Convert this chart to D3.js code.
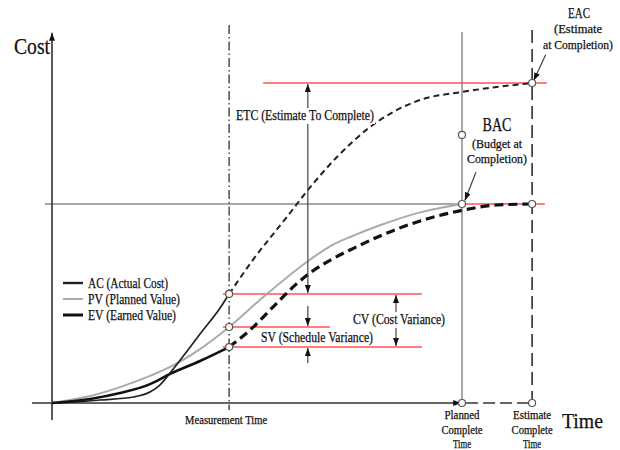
<!DOCTYPE html>
<html>
<head>
<meta charset="utf-8">
<script src="https://cdn.jsdelivr.net/npm/d3@7"></script>
<style>
  html, body { margin: 0; padding: 0; background: #fff; }
  svg { display: block; font-family: "Liberation Serif", "Times New Roman", serif; }
</style>
</head>
<body>
<script>
// curve points as [time, cost]; planned complete time = 100, BAC = 100
const pvPoints = [[0,0],[9.3,3.5],[16.6,8.0],[23.9,13.6],[28.8,18.1],[36.1,27.1],[43.2,38.2],
                  [50.7,51.8],[62.9,72.0],[68.0,79.0],[73.4,84.0],[80,89.3],[89.8,95.8],[100,100]];
const evPoints = [[0,0],[9.3,2.0],[16.6,5.0],[23.9,9.5],[28.8,14.6],[36.1,21.1],[43.2,28.1]];
const evForecast = [[43.2,28.1],[48.3,36.7],[55.6,51.8],[59.5,59.6],[63.5,66.2],[68.5,72.5],
                    [73.4,77.6],[81.2,85.0],[89.8,91.5],[100,96.8],[108.5,99.5],[117.1,100]];
const acPoints = [[0,0],[5.6,0.5],[11.7,1.5],[19.8,3.0],[23.9,5.5],[26.3,9.0],[28.8,15.1],
                  [32.4,24.6],[36.1,34.7],[41,47.7],[43.2,54.8]];
const acForecast = [[43.2,54.8],[49,71.9],[57.3,93.5],[62.4,107.0],[69.5,123.6],[77.6,138.7],
                    [83.2,146.2],[89.8,152.3],[100,156.3],[117.1,160.8]];

// key times: measurement, planned complete, estimate complete
const keyTimes = [43.2, 100, 117.1];
// key costs: EV, PV, AC at measurement, BAC, EAC
const keyCosts = [28.1, 38.2, 54.8, 100, 160.8];

const legendNames = ["AC (Actual Cost)", "PV (Planned Value)", "EV (Earned Value)"];

const width = 620, height = 450;

const svg = d3.select("body").append("svg")
  .attr("width", width)
  .attr("height", height);

const x = d3.scaleLinear().domain([0, 100]).range([52, 462]);
const y = d3.scaleLinear().domain([0, 100]).range([403, 204]);

const tM = keyTimes[0], tP = keyTimes[1], tE = keyTimes[2];
const [cEV, cPV, cAC, cBAC, cEAC] = keyCosts;

// arrow head
svg.append("defs").append("marker")
  .attr("id", "arr")
  .attr("viewBox", "0 0 8 6")
  .attr("refX", 8).attr("refY", 3)
  .attr("markerWidth", 8).attr("markerHeight", 6)
  .attr("markerUnits", "userSpaceOnUse")
  .attr("orient", "auto-start-reverse")
  .append("path").attr("d", "M0,0 L8,3 L0,6 Z").attr("fill", "#111");

function vline(t, c0, c1, stroke, w, dash) {
  return svg.append("line")
    .attr("x1", x(t)).attr("x2", x(t))
    .attr("y1", y(c0)).attr("y2", y(c1))
    .attr("stroke", stroke).attr("stroke-width", w)
    .attr("stroke-dasharray", dash || null);
}
function hline(c, t0, t1, stroke, w, dash) {
  return svg.append("line")
    .attr("x1", x(t0)).attr("x2", x(t1))
    .attr("y1", y(c)).attr("y2", y(c))
    .attr("stroke", stroke).attr("stroke-width", w)
    .attr("stroke-dasharray", dash || null);
}
function label(str, px, py, size, len, anchor) {
  return svg.append("text")
    .attr("x", px).attr("y", py)
    .attr("font-size", size)
    .attr("text-anchor", anchor || "start")
    .attr("textLength", len)
    .attr("lengthAdjust", "spacingAndGlyphs")
    .attr("fill", "#111")
    .attr("stroke", "#111")
    .attr("stroke-width", 0.25)
    .text(str);
}

// reference lines
hline(cBAC, -1.7, tP, "#8a8a8a", 1.5);
vline(tP, 186.4, 0, "#8a8a8a", 1.5);
vline(tE, 187.4, 0, "#222", 1.5, "13,6");
vline(tM, 190, -3.5, "#333", 1.3, "9,3,1.5,3");

// red levels
const red = "#ff5252";
hline(cEAC, 51.5, 120.7, red, 1.5);
hline(cBAC, tP, 120.2, red, 1.5);
hline(cAC, 41.7, 90.2, red, 1.5);
hline(cPV, 41.7, 67.8, red, 1.5);
hline(cEV, 41.7, 90.2, red, 1.5);

// axes
svg.append("line")
  .attr("x1", x(0)).attr("x2", x(0))
  .attr("y1", y(-8.5)).attr("y2", y(186))
  .attr("stroke", "#333").attr("stroke-width", 1.6)
  .attr("marker-end", "url(#arr)");
svg.append("line")
  .attr("x1", x(-4.9)).attr("x2", x(99.8))
  .attr("y1", y(0)).attr("y2", y(0))
  .attr("stroke", "#333").attr("stroke-width", 1.6)
  .attr("marker-end", "url(#arr)");
hline(0, tP + 1, tE, "#333", 1.6, "12,5");

// curves
const line = d3.line()
  .x(d => x(d[0]))
  .y(d => y(d[1]))
  .curve(d3.curveMonotoneX);

svg.append("path").datum(pvPoints).attr("d", line)
  .attr("fill", "none").attr("stroke", "#aaa").attr("stroke-width", 2);
svg.append("path").datum(acPoints).attr("d", line)
  .attr("fill", "none").attr("stroke", "#222").attr("stroke-width", 1.7);
svg.append("path").datum(acForecast).attr("d", line)
  .attr("fill", "none").attr("stroke", "#222").attr("stroke-width", 2)
  .attr("stroke-dasharray", "6,4");
svg.append("path").datum(evPoints).attr("d", line)
  .attr("fill", "none").attr("stroke", "#111").attr("stroke-width", 2.6);
svg.append("path").datum(evForecast).attr("d", line)
  .attr("fill", "none").attr("stroke", "#111").attr("stroke-width", 3.2)
  .attr("stroke-dasharray", "9,5");

// measurement arrows
const tETC = 62.4, tCV = 83.9;
function arrow(t0, c0, t1, c1, both) {
  const a = svg.append("line")
    .attr("x1", x(t0)).attr("y1", y(c0))
    .attr("x2", x(t1)).attr("y2", y(c1))
    .attr("stroke", "#444").attr("stroke-width", 1.2)
    .attr("marker-end", "url(#arr)");
  if (both) a.attr("marker-start", "url(#arr)");
  return a;
}
arrow(tETC, cAC + 0.5, tETC, cEAC - 0.5, true);
arrow(tETC, 48.7, tETC, cPV + 0.5);
arrow(tETC, 20.1, tETC, cEV - 0.5);
arrow(tCV, cEV + 0.5, tCV, cAC - 0.5, true);

// label backgrounds
svg.append("rect").attr("x", 235).attr("y", 108).attr("width", 140).attr("height", 16).attr("fill", "#fff");
svg.append("rect").attr("x", 352).attr("y", 312).attr("width", 94).attr("height", 16).attr("fill", "#fff");

// pointer arrows
arrow(120.4, 175, 117.5, 162);
arrow(103.4, 116, 100.7, 101.8);

// circles
const dots = [[tM, cAC], [tM, cPV], [tM, cEV], [tP, cBAC], [tP, 134.7], [tP, 0],
              [tE, cEAC], [tE, cBAC], [tE, 0]];
svg.selectAll("circle.pt").data(dots).enter().append("circle")
  .attr("class", "pt")
  .attr("cx", d => x(d[0])).attr("cy", d => y(d[1]))
  .attr("r", 3.5)
  .attr("fill", "#fff").attr("stroke", "#555").attr("stroke-width", 1.2);

// legend
const legendStyle = [{c: "#222", w: 2.4}, {c: "#aaa", w: 2}, {c: "#111", w: 3}];
legendNames.forEach(function (name, i) {
  const ly = 283 + i * 16;
  svg.append("line")
    .attr("x1", 63).attr("x2", 83).attr("y1", ly).attr("y2", ly)
    .attr("stroke", legendStyle[i].c).attr("stroke-width", legendStyle[i].w);
  label(name, 88, ly + 5, 15, [80, 92, 88][i]);
});

// text
label("Cost", 14, 54, 24, 36);
label("Time", 562, 428, 22, 41);
label("Measurement Time", x(tM) - 3, 424, 12, 82, "middle");
label("Planned", x(tP), 419, 12, 35, "middle");
label("Complete", x(tP), 434, 12, 41, "middle");
label("Time", x(tP), 448, 12, 18, "middle");
label("Estimate", x(tE), 419, 12, 38, "middle");
label("Complete", x(tE), 434, 12, 41, "middle");
label("Time", x(tE), 448, 12, 18, "middle");
label("ETC (Estimate To Complete)", 236, 120, 14, 138);
label("SV (Schedule Variance)", 261, 342, 14, 112);
label("CV (Cost Variance)", 353, 324, 14, 92);
label("EAC", 579, 18, 15, 22, "middle");
label("(Estimate", 578, 33, 13, 48, "middle");
label("at Completion)", 578, 49, 13, 70, "middle");
label("BAC", 497, 131, 18, 29, "middle");
label("(Budget at", 497, 148, 13, 50, "middle");
label("Completion)", 497, 163, 13, 60, "middle");
</script>
</body>
</html>
